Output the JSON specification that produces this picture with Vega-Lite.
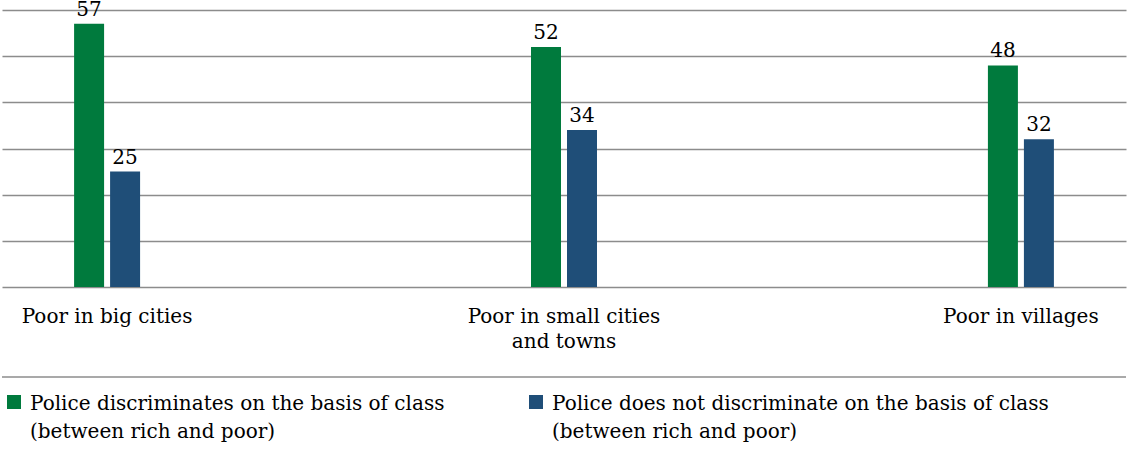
{
  "$schema": "https://vega.github.io/schema/vega-lite/v6.json",
  "width": 1124,
  "height": 277,
  "autosize": {"type": "none"},
  "padding": {"left": 2, "top": 10, "right": 1, "bottom": 184},
  "background": "white",
  "config": {"view": {"stroke": null}, "font": "DejaVu Serif"},
  "data": {
    "values": [
      {"category": "Poor in big cities", "series": "Police discriminates on the basis of class (between rich and poor)", "value": 57},
      {"category": "Poor in big cities", "series": "Police does not discriminate on the basis of class (between rich and poor)", "value": 25},
      {"category": "Poor in small cities and towns", "series": "Police discriminates on the basis of class (between rich and poor)", "value": 52},
      {"category": "Poor in small cities and towns", "series": "Police does not discriminate on the basis of class (between rich and poor)", "value": 34},
      {"category": "Poor in villages", "series": "Police discriminates on the basis of class (between rich and poor)", "value": 48},
      {"category": "Poor in villages", "series": "Police does not discriminate on the basis of class (between rich and poor)", "value": 32}
    ]
  },
  "layer": [
    {
      "mark": {"type": "bar"},
      "encoding": {
        "x": {
          "field": "category", "type": "nominal", "sort": null,
          "scale": {"paddingInner": 0.698, "paddingOuter": 0.079},
          "axis": {
            "title": null, "labelAngle": 0, "domain": false, "ticks": false, "grid": false,
            "labelFont": "DejaVu Serif", "labelFontSize": 20, "labelColor": "black",
            "labelPadding": 19, "labelLineHeight": 25, "labelOverlap": false, "labelLimit": 400,
            "labelExpr": "split(replace(datum.label, ' and towns', '|and towns'), '|')"
          }
        },
        "xOffset": {"field": "series", "type": "nominal", "sort": null, "scale": {"paddingInner": 0.1667, "paddingOuter": 1}},
        "y": {
          "field": "value", "type": "quantitative",
          "scale": {"domain": [0, 60], "nice": false},
          "axis": {
            "title": null, "labels": false, "ticks": false, "domain": false, "grid": true,
            "gridColor": "#8c8c8c", "gridWidth": 1.5, "values": [0, 10, 20, 30, 40, 50, 60]
          }
        },
        "color": {
          "field": "series", "type": "nominal", "sort": null,
          "scale": {
            "domain": ["Police discriminates on the basis of class (between rich and poor)", "Police does not discriminate on the basis of class (between rich and poor)"],
            "range": ["#007a3d", "#1f4e78"]
          },
          "legend": {
            "title": null, "orient": "none", "legendX": 2, "legendY": 382,
            "direction": "horizontal", "columns": 2, "columnPadding": 81,
            "symbolType": "square", "symbolSize": 196, "symbolStrokeWidth": 0, "symbolOpacity": 1,
            "labelFont": "DejaVu Serif", "labelFontSize": 20, "labelColor": "black",
            "labelLimit": 1000, "labelOffset": 6, "labelBaseline": "alphabetic", "padding": 0,
            "labelExpr": "split(replace(datum.label, ' (between', '|(between'), '|')",
            "encode": {"labels": {"update": {"dy": {"value": 8}, "lineHeight": {"value": 28}}}}
          }
        }
      }
    },
    {
      "mark": {"type": "text", "dy": -8, "baseline": "alphabetic", "fontSize": 20, "font": "DejaVu Serif", "color": "black"},
      "encoding": {
        "x": {"field": "category", "type": "nominal", "sort": null},
        "xOffset": {"field": "series", "type": "nominal", "sort": null},
        "y": {"field": "value", "type": "quantitative"},
        "text": {"field": "value", "type": "quantitative"}
      }
    },
    {
      "data": {"values": [{"line": "separator"}]},
      "mark": {"type": "rule", "color": "#8c8c8c", "strokeWidth": 1.5},
      "encoding": {"y": {"datum": -19.5}}
    }
  ]
}
